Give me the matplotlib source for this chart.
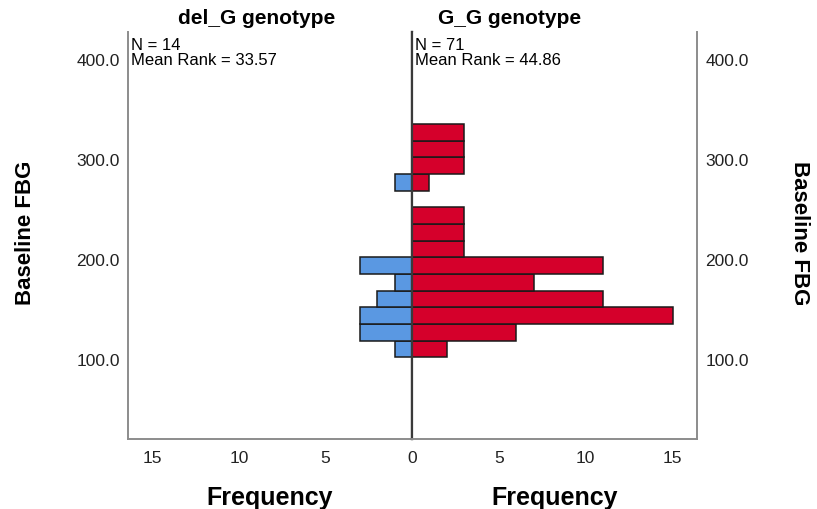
import matplotlib.pyplot as plt

# ─── DATA ──────────────────────────────────────────────────────────────────
BIN_EDGES = [101.7, 118.3, 135.0, 151.7, 168.3, 185.0, 201.7, 218.3,
             235.0, 251.7, 268.3, 285.0, 301.7, 318.3, 335.0]
DEL_G_COUNTS = [1, 3, 3, 2, 1, 3, 0, 0, 0, 0, 1, 0, 0, 0]
G_G_COUNTS   = [2, 6, 15, 11, 7, 11, 3, 3, 3, 0, 1, 3, 3, 3]

GROUPS = ["del_G genotype", "G_G genotype"]
GROUP_N = [14, 71]
MEAN_RANK = [33.57, 44.86]

Y_TICKS = [100, 200, 300, 400]
X_TICKS = [0, 5, 10, 15]

BLUE = "#5A98E2"
RED  = "#D5002B"
FRAME = "#8C8C8C"
CENTER = "#3A3A3A"

plt.rcParams.update({
    "font.family": ["Liberation Sans", "DejaVu Sans"],
    "font.size": 12,
})

W, H = 817, 510
fig = plt.figure(figsize=(W / 100, H / 100), dpi=100)

left_px, mid_px, right_px = 128, 412, 697
top_px, bot_px = 33, 440
ax_h = (bot_px - top_px) / H
ax_y = (H - bot_px) / H
axL = fig.add_axes([left_px / W, ax_y, (mid_px - left_px) / W, ax_h])
axR = fig.add_axes([mid_px / W, ax_y, (right_px - mid_px) / W, ax_h])

lows = BIN_EDGES[:-1]
widths = [b - a for a, b in zip(BIN_EDGES[:-1], BIN_EDGES[1:])]

for ax, counts, color in [(axL, DEL_G_COUNTS, BLUE), (axR, G_G_COUNTS, RED)]:
    ax.barh(lows, counts, height=widths, align="edge", color=color,
            edgecolor="#1a1a1a", linewidth=1.1, zorder=2)
    ax.set_ylim(20, 427)
    ax.set_yticks(Y_TICKS)
    ax.set_yticklabels([f"{v:.1f}" for v in Y_TICKS], fontsize=12.5, color="#222222")
    ax.spines["top"].set_visible(False)
    ax.spines["bottom"].set_color(FRAME)
    ax.spines["bottom"].set_linewidth(1.4)
    ax.tick_params(axis="both", length=0, labelsize=12.5, colors="#222222")
    ax.tick_params(axis="x", pad=8)
    ax.set_xlabel("Frequency", fontsize=18, fontweight="bold", labelpad=14)

# left panel: mirrored
axL.set_xlim(16.4, 0)
axL.set_xticks(X_TICKS[1:])
axL.spines["left"].set_color(FRAME)
axL.spines["left"].set_linewidth(1.4)
axL.spines["right"].set_color(CENTER)
axL.spines["right"].set_linewidth(1.6)
axL.tick_params(axis="y", pad=6)

# right panel
axR.set_xlim(0, 16.4)
axR.set_xticks(X_TICKS)
axR.spines["left"].set_color(CENTER)
axR.spines["left"].set_linewidth(1.6)
axR.spines["right"].set_color(FRAME)
axR.spines["right"].set_linewidth(1.4)
axR.yaxis.tick_right()
axR.tick_params(axis="y", pad=6)

# y-axis titles on both sides
fig.text(26 / W, 1 - 233 / H, "Baseline FBG", rotation=90, ha="center",
         va="center", fontsize=16, fontweight="bold")
fig.text(799 / W, 1 - 233 / H, "Baseline FBG", rotation=270, ha="center",
         va="center", fontsize=16, fontweight="bold")

# panel headers and stats
fig.text(257 / W, 1 - 19 / H, GROUPS[0], ha="center", va="center",
         fontsize=15, fontweight="bold")
fig.text(510 / W, 1 - 19 / H, GROUPS[1], ha="center", va="center",
         fontsize=15, fontweight="bold")
for x_px, n, mr in [(131, GROUP_N[0], MEAN_RANK[0]), (415, GROUP_N[1], MEAN_RANK[1])]:
    fig.text(x_px / W, 1 - 53 / H, f"N = {n}\nMean Rank = {mr:.2f}",
             ha="left", va="center", fontsize=12, linespacing=1.05)

fig.savefig("out.png", dpi=100)
